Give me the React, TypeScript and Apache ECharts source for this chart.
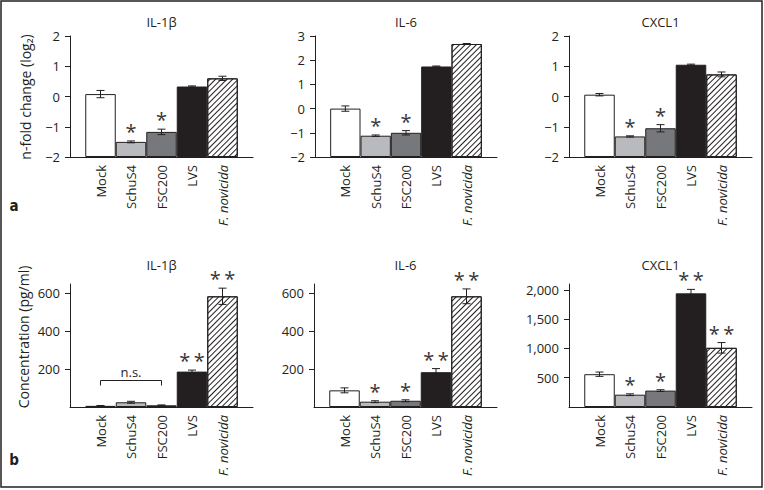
import React, { useEffect, useRef } from 'react';
import * as echarts from 'echarts';

// ---------- data ----------
const categories = ['Mock', 'SchuS4', 'FSC200', 'LVS', 'F. novicida'];

// a: n-fold change (log2)
const foldIL1b = [0.08, -1.5, -1.17, 0.33, 0.6];
const foldIL1bErr = [0.12, 0.03, 0.09, 0.02, 0.07];
const foldIL1bSig = ['', '*', '*', '', ''];
const foldIL6 = [0.0, -1.12, -1.0, 1.74, 2.67];
const foldIL6Err = [0.11, 0.03, 0.09, 0.02, 0.02];
const foldIL6Sig = ['', '*', '*', '', ''];
const foldCXCL1 = [0.06, -1.32, -1.05, 1.05, 0.73];
const foldCXCL1Err = [0.04, 0.02, 0.12, 0.02, 0.08];
const foldCXCL1Sig = ['', '*', '*', '', ''];

// b: concentration (pg/ml)
const concIL1b = [6, 25, 9, 187, 585];
const concIL1bErr = [2, 5, 2, 8, 43];
const concIL1bSig = ['', '', '', '**', '**'];
const concIL6 = [88, 28, 33, 184, 585];
const concIL6Err = [13, 5, 5, 19, 39];
const concIL6Sig = ['', '*', '*', '**', '**'];
const concCXCL1 = [560, 210, 280, 1940, 1010];
const concCXCL1Err = [37, 15, 15, 68, 90];
const concCXCL1Sig = ['', '*', '*', '**', '**'];

// tick labels
const foldTicks2 = [-2, -1, 0, 1, 2];
const foldTicks3 = [-2, -1, 0, 1, 2, 3];
const concTicks600 = [200, 400, 600];
const concTicks2000 = [500, 1000, 1500, 2000];

// n.s. bracket (bottom IL-1β): from category, to category, level
const nsBracket = { from: 'Mock', to: 'FSC200', value: 140, text: 'n.s.' };

// ---------- styles ----------
const INK = '#231f20';
const FONT = '"Open Sans", "Noto Sans", sans-serif';
const barFills = ['#ffffff', '#b9babd', '#77787b', '#231f20', 'hatch'];

const paddedCats = ['', ...categories, ''];

type Panel = {
  title: string;
  vals: number[];
  errs: number[];
  sig: string[];
  grid: { left: number; top: number; width: number; height: number };
  min: number;
  max: number;
  interval: number;
  ticks: number[];
  start: number;
  fmt: (v: number) => string;
};

const foldFmt = (v: number) => String(v).replace('-', '\u2212');
const concFmt = (v: number) => v.toLocaleString('en-US');

const panels: Panel[] = [
  { title: 'IL-1β', vals: foldIL1b, errs: foldIL1bErr, sig: foldIL1bSig, grid: { left: 70, top: 36, width: 183, height: 121 }, min: -2, max: 2, interval: 1, ticks: foldTicks2, start: -2, fmt: foldFmt },
  { title: 'IL-6', vals: foldIL6, errs: foldIL6Err, sig: foldIL6Sig, grid: { left: 315, top: 36, width: 182, height: 121 }, min: -2, max: 3, interval: 1, ticks: foldTicks3, start: -2, fmt: foldFmt },
  { title: 'CXCL1', vals: foldCXCL1, errs: foldCXCL1Err, sig: foldCXCL1Sig, grid: { left: 569, top: 36, width: 183, height: 121 }, min: -2, max: 2, interval: 1, ticks: foldTicks2, start: -2, fmt: foldFmt },
  { title: 'IL-1β', vals: concIL1b, errs: concIL1bErr, sig: concIL1bSig, grid: { left: 70, top: 284, width: 183, height: 123 }, min: 0, max: 650, interval: 50, ticks: concTicks600, start: 0, fmt: concFmt },
  { title: 'IL-6', vals: concIL6, errs: concIL6Err, sig: concIL6Sig, grid: { left: 314, top: 284, width: 183, height: 123 }, min: 0, max: 650, interval: 50, ticks: concTicks600, start: 0, fmt: concFmt },
  { title: 'CXCL1', vals: concCXCL1, errs: concCXCL1Err, sig: concCXCL1Sig, grid: { left: 569, top: 284, width: 183, height: 123 }, min: 0, max: 2100, interval: 100, ticks: concTicks2000, start: 0, fmt: concFmt },
];

const hatchDecal = {
  symbol: 'rect',
  symbolSize: 1,
  color: INK,
  backgroundColor: '#ffffff',
  dashArrayX: [1, 0],
  dashArrayY: [1, 2.2],
  rotation: -Math.PI / 4,
};

function buildOption() {
  const grid: any[] = [];
  const xAxis: any[] = [];
  const yAxis: any[] = [];
  const series: any[] = [];
  const graphic: any[] = [];

  panels.forEach((p, i) => {
    grid.push({ ...p.grid, containLabel: false });
    xAxis.push({
      type: 'category',
      gridIndex: i,
      data: paddedCats,
      boundaryGap: false,
      axisLine: { show: true, onZero: false, lineStyle: { color: INK, width: 1 } },
      axisTick: { show: false },
      splitLine: { show: false },
      axisLabel: {
        interval: 0,
        rotate: 90,
        margin: 8,
        color: INK,
        fontFamily: FONT,
        fontSize: 13,
        formatter: (v: string) => (v === 'F. novicida' ? '{i|F. novicida}' : v),
        rich: { i: { fontStyle: 'italic', fontFamily: FONT, fontSize: 13, color: INK } },
      },
    });
    yAxis.push({
      type: 'value',
      gridIndex: i,
      min: p.min,
      max: p.max,
      interval: p.interval,
      startValue: p.start,
      axisLine: { show: true, onZero: false, lineStyle: { color: INK, width: 1 } },
      axisTick: { show: true, length: 5, lineStyle: { color: INK }, customValues: p.ticks },
      splitLine: { show: false },
      axisLabel: {
        customValues: p.ticks,
        margin: 10,
        color: INK,
        fontFamily: FONT,
        fontSize: 13,
        formatter: p.fmt,
      },
    });

    const barData: any[] = ['-'];
    p.vals.forEach((v, k) => {
      const fill = barFills[k];
      barData.push({
        value: v,
        itemStyle:
          fill === 'hatch'
            ? { color: '#ffffff', decal: hatchDecal, borderColor: INK, borderWidth: 1 }
            : { color: fill, borderColor: INK, borderWidth: 1 },
      });
    });
    barData.push('-');

    series.push({
      type: 'bar',
      xAxisIndex: i,
      yAxisIndex: i,
      data: barData,
      barCategoryGap: '0%',
      barGap: '0%',
      silent: true,
    });

    const sig = p.sig;
    series.push({
      type: 'custom',
      xAxisIndex: i,
      yAxisIndex: i,
      silent: true,
      z: 5,
      data: p.vals.map((v, k) => [k + 1, v, p.errs[k]]),
      renderItem: (params: any, api: any) => {
        const x = api.value(0);
        const v = api.value(1);
        const e = api.value(2);
        const top = api.coord([x, v + e]);
        const bot = api.coord([x, v - e]);
        const cap = 4;
        const ls = { stroke: INK, lineWidth: 1 };
        const children: any[] = [
          { type: 'line', shape: { x1: top[0], y1: top[1], x2: bot[0], y2: bot[1] }, style: ls },
          { type: 'line', shape: { x1: top[0] - cap, y1: top[1], x2: top[0] + cap, y2: top[1] }, style: ls },
          { type: 'line', shape: { x1: bot[0] - cap, y1: bot[1], x2: bot[0] + cap, y2: bot[1] }, style: ls },
        ];
        const s = sig[params.dataIndex];
        if (s) {
          children.push({
            type: 'text',
            x: top[0],
            y: top[1] - 9.5,
            style: {
              text: s === '**' ? '*\u2009*' : s,
              fill: '#3a3637',
              fontFamily: FONT,
              fontSize: 20,
              align: 'center',
              verticalAlign: 'middle',
            },
          });
        }
        return { type: 'group', children };
      },
    });

    graphic.push({
      type: 'text',
      x: p.grid.left + p.grid.width / 2,
      y: i < 3 ? 22 : 265,
      style: { text: p.title, fill: INK, fontFamily: FONT, fontSize: 13, align: 'center', verticalAlign: 'middle' },
    });
  });

  // n.s. bracket on bottom IL-1β
  const fromIdx = paddedCats.indexOf(nsBracket.from);
  const toIdx = paddedCats.indexOf(nsBracket.to);
  series.push({
    type: 'custom',
    xAxisIndex: 3,
    yAxisIndex: 3,
    silent: true,
    z: 5,
    data: [[fromIdx, toIdx, nsBracket.value]],
    renderItem: (params: any, api: any) => {
      const a = api.coord([api.value(0), api.value(2)]);
      const b = api.coord([api.value(1), api.value(2)]);
      const ls = { stroke: INK, lineWidth: 1, fill: 'none' };
      return {
        type: 'group',
        children: [
          { type: 'polyline', shape: { points: [[a[0], a[1] + 5], [a[0], a[1]], [b[0], b[1]], [b[0], b[1] + 5]] }, style: ls },
          {
            type: 'text',
            x: (a[0] + b[0]) / 2,
            y: a[1] - 9,
            style: { text: nsBracket.text, fill: INK, fontFamily: FONT, fontSize: 13, align: 'center', verticalAlign: 'middle' },
          },
        ],
      };
    },
  });

  graphic.push(
    {
      type: 'text',
      x: 25,
      y: 97,
      rotation: Math.PI / 2,
      style: { text: 'n-fold change (log₂)', fill: INK, fontFamily: FONT, fontSize: 14, align: 'center', verticalAlign: 'middle' },
    },
    {
      type: 'text',
      x: 23,
      y: 337,
      rotation: Math.PI / 2,
      style: { text: 'Concentration (pg/ml)', fill: INK, fontFamily: FONT, fontSize: 14, align: 'center', verticalAlign: 'middle' },
    },
    {
      type: 'text',
      x: 14,
      y: 206,
      style: { text: 'a', fill: INK, fontFamily: '"Liberation Sans Narrow", "DejaVu Sans Condensed", sans-serif', fontWeight: 'bold', fontSize: 15, align: 'center', verticalAlign: 'middle' },
    },
    {
      type: 'text',
      x: 14,
      y: 460,
      style: { text: 'b', fill: INK, fontFamily: '"Liberation Sans Narrow", "DejaVu Sans Condensed", sans-serif', fontWeight: 'bold', fontSize: 15, align: 'center', verticalAlign: 'middle' },
    },
    {
      type: 'rect',
      shape: { x: 1, y: 1, width: 761, height: 486 },
      style: { fill: 'none', stroke: INK, lineWidth: 1.5 },
      silent: true,
    }
  );

  return { animation: false, backgroundColor: '#ffffff', grid, xAxis, yAxis, series, graphic };
}

export default function App() {
  const ref = useRef<HTMLDivElement>(null);
  useEffect(() => {
    if (!ref.current) return;
    const chart = echarts.init(ref.current, null, { renderer: 'svg' });
    chart.setOption(buildOption() as any);
    return () => chart.dispose();
  }, []);
  return (
    <div
      ref={ref}
      style={{ position: 'fixed', left: 0, top: 0, width: 764, height: 490, background: '#ffffff' }}
    />
  );
}
